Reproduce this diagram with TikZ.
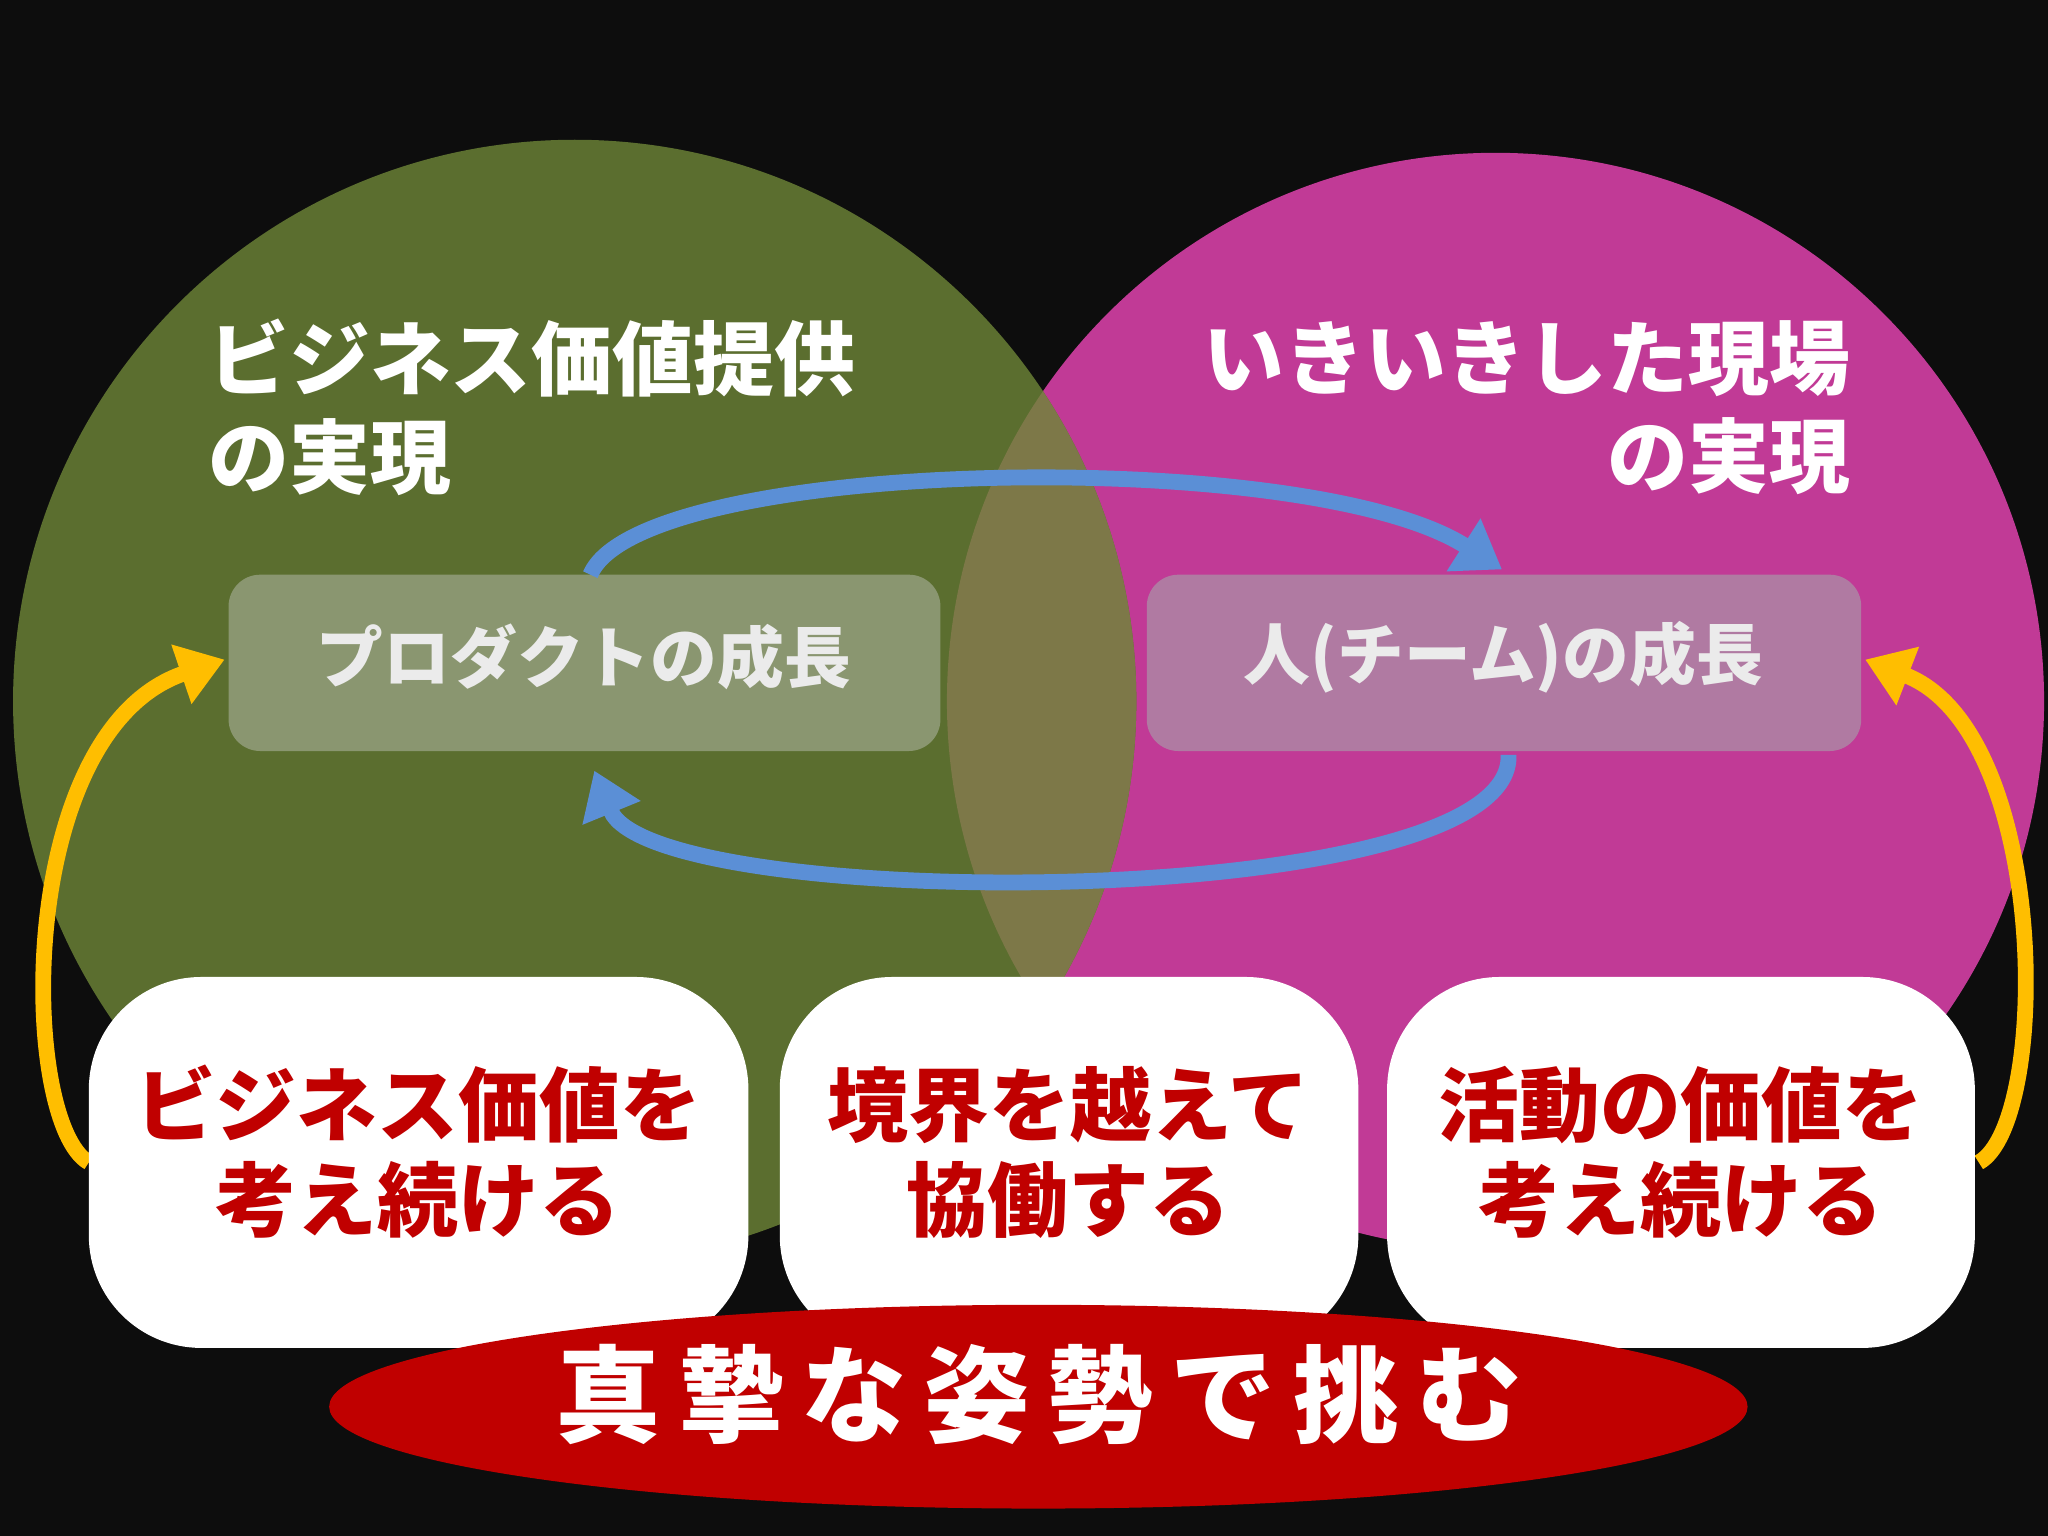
\documentclass[tikz,border=0pt]{standalone}
\usepackage{fontspec}
\newfontfamily\cjk{Noto Sans CJK JP}
\usetikzlibrary{arrows.meta,shapes.geometric}
\definecolor{bg}{HTML}{0D0D0D}
\definecolor{gcirc}{HTML}{5B6E2F}
\definecolor{mcirc}{HTML}{C13A96}
\definecolor{ovl}{HTML}{7D7848}
\definecolor{darkred}{HTML}{C00000}
\definecolor{blu}{HTML}{5B8FD6}
\definecolor{ylw}{HTML}{FFBE00}
\definecolor{gbox}{HTML}{8A9670}
\definecolor{mbox}{HTML}{B07AA2}
\tikzset{
 head/.style={text=white,font=\cjk\bfseries\fontsize{23}{28}\selectfont},
 growtext/.style={text=white!92!black,font=\cjk\bfseries\fontsize{19}{22}\selectfont},
 actbox/.style={text=darkred,font=\cjk\bfseries\fontsize{23}{27}\selectfont,align=center},
 barrow/.style={blu,line width=4.5pt,-{Triangle[length=13pt,width=17pt]}},
 yarrow/.style={ylw,line width=4.5pt,-{Triangle[length=13pt,width=17pt]}},
}
\begin{document}
\begin{tikzpicture}[x=0.013061cm,y=-0.013061cm]
\fill[bg] (0,0) rectangle (1568,1176);
\useasboundingbox (0,0) rectangle (1568,1176);
\fill[mcirc] (1145,537) circle (420);
\fill[gcirc] (440,537) circle (430);
\begin{scope}
\clip (1145,537) circle (420);
\fill[ovl] (440,537) circle (430);
\end{scope}
\node[head,anchor=west,align=left] (h1) at (150,312) {ビジネス価値提供\\の実現};
\node[head,anchor=east,align=right] (h2) at (1426,312) {いきいきした現場\\の実現};
\fill[gbox,rounded corners=9pt] (175,440) rectangle (720,575);
\node[growtext] (pt) at (447,503) {プロダクトの成長};
\fill[mbox,rounded corners=9pt] (878,440) rectangle (1425,575);
\node[growtext] (ht) at (1151,503) {人(チーム)の成長};
\coordinate (t1) at (452,440);
\coordinate (t2) at (1150,436);
\coordinate (b1) at (1155,578);
\coordinate (b2) at (455,590);
\draw[barrow] (t1) .. controls (490,350) and (1000,340) .. (t2);
\draw[barrow] (b1) .. controls (1160,700) and (500,700) .. (b2);
\coordinate (yl1) at (68,890);
\coordinate (yl2) at (172,505);
\coordinate (yr1) at (1515,890);
\coordinate (yr2) at (1428,505);
\draw[yarrow] (yl1) .. controls (15,860) and (10,560) .. (yl2);
\draw[yarrow] (yr1) .. controls (1570,860) and (1570,560) .. (yr2);
\fill[white,rounded corners=32pt] (68,748) rectangle (573,1032);
\fill[white,rounded corners=32pt] (597,748) rectangle (1040,1032);
\fill[white,rounded corners=32pt] (1062,748) rectangle (1512,1032);
\node[actbox] (a1) at (320,882) {ビジネス価値を\\考え続ける};
\node[actbox] (a2) at (818,882) {境界を越えて\\協働する};
\node[actbox] (a3) at (1287,882) {活動の価値を\\考え続ける};
\fill[darkred] (795,1077) ellipse [x radius=543, y radius=78];
\node[text=white,font=\cjk\bfseries\fontsize{30}{34}\selectfont] (e) at (795,1068) {真\,摯\,な\,姿\,勢\,で\,挑\,む};
\end{tikzpicture}
\end{document}
